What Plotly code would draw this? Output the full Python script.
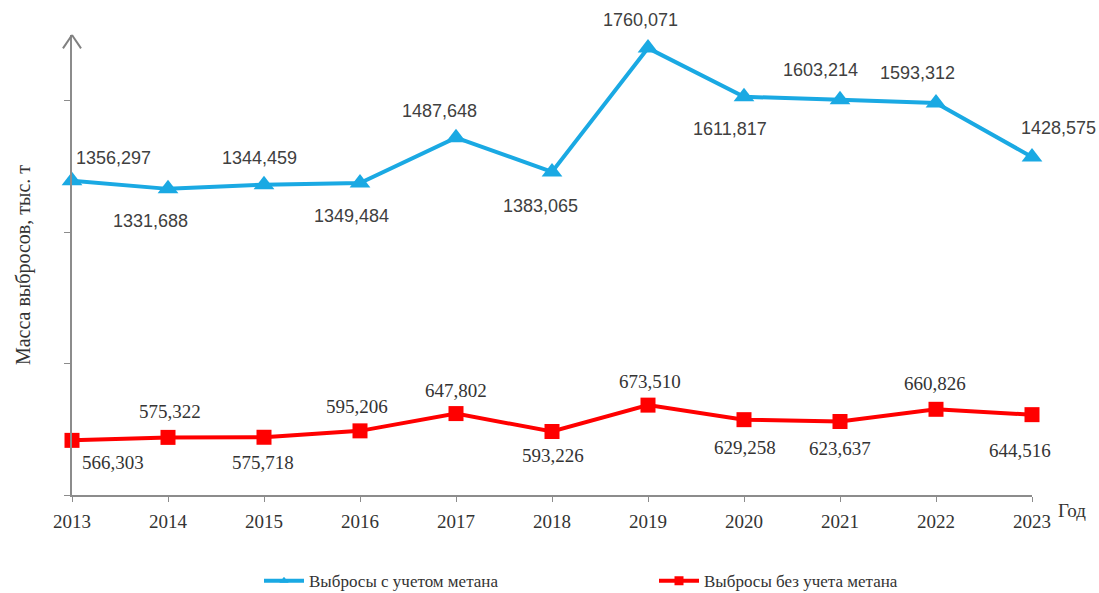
import plotly.graph_objects as go

# Годы и массы выбросов (тыс. т)
years = [2013, 2014, 2015, 2016, 2017, 2018, 2019, 2020, 2021, 2022, 2023]
with_methane = [1356.297, 1331.688, 1344.459, 1349.484, 1487.648, 1383.065,
                1760.071, 1611.817, 1603.214, 1593.312, 1428.575]
without_methane = [566.303, 575.322, 575.718, 595.206, 647.802, 593.226,
                   673.510, 629.258, 623.637, 660.826, 644.516]

name_with = "Выбросы с учетом метана"
name_without = "Выбросы без учета метана"
y_title = "Масса выбросов, тыс. т"
x_title = "Год"

# pixel offsets of the value labels relative to their markers
with_offsets = [(41, 23), (-18, -32), (-5, 27), (-9, -33), (-17, 27), (-12, -34),
                (-8, 28), (-14, -32), (-20, 30), (-19, 30), (26, 29)]
without_offsets = [(41, -22), (2, 26), (-1, -25), (-3, 24), (0, 23), (1, -24),
                   (2, 24), (1, -28), (0, -27), (-1, 26), (-12, -36)]

BLUE = "#1aa9e3"
RED = "#ff0000"
AXIS = "#8c8c8c"
SERIF = "Liberation Serif, Times New Roman, serif"
SANS = "Liberation Sans, Arial, sans-serif"


def fmt(v):
    return f"{v:.3f}".replace(".", ",")


fig = go.Figure()
fig.add_trace(go.Scatter(
    x=years, y=with_methane, name=name_with, mode="lines+markers",
    line=dict(color=BLUE, width=4),
    marker=dict(symbol="triangle-up", size=18, color=BLUE),
    cliponaxis=False, showlegend=False, legendgroup="with",
))
fig.add_trace(go.Scatter(
    x=years, y=without_methane, name=name_without, mode="lines+markers",
    line=dict(color=RED, width=4),
    marker=dict(symbol="square", size=15, color=RED),
    cliponaxis=False, showlegend=False, legendgroup="without",
))
# legend entries with smaller symbols
fig.add_trace(go.Scatter(
    x=[None], y=[None], name=name_with, mode="lines+markers",
    line=dict(color=BLUE, width=4),
    marker=dict(symbol="triangle-up", size=8, color=BLUE),
    legendgroup="with",
))
fig.add_trace(go.Scatter(
    x=[None], y=[None], name=name_without, mode="lines+markers",
    line=dict(color=RED, width=4),
    marker=dict(symbol="square", size=9, color=RED),
    legendgroup="without",
))

annotations = []
for x, v, (dx, dy) in zip(years, with_methane, with_offsets):
    annotations.append(dict(x=x, y=v, text=fmt(v), showarrow=False,
                            xshift=dx, yshift=dy,
                            font=dict(family=SANS, size=18, color="#404040")))
for x, v, (dx, dy) in zip(years, without_methane, without_offsets):
    annotations.append(dict(x=x, y=v, text=fmt(v), showarrow=False,
                            xshift=dx, yshift=dy,
                            font=dict(family=SERIF, size=19, color="#333333")))
annotations.append(dict(x=1, y=0, xref="paper", yref="paper", text=x_title,
                        showarrow=False, xanchor="left", yanchor="middle",
                        xshift=24, yshift=-15,
                        font=dict(family=SERIF, size=19, color="#333333")))

# open arrow head on top of the vertical axis
arrow_line = dict(color="#808080", width=2)
shapes = [
    dict(type="line", xref="paper", yref="paper",
         x0=-0.0094, y0=0.971, x1=0, y1=1, line=arrow_line, layer="above"),
    dict(type="line", xref="paper", yref="paper",
         x0=0.0094, y0=0.971, x1=0, y1=1, line=arrow_line, layer="above"),
]

fig.update_layout(
    width=1099, height=593,
    margin=dict(l=72, r=67, t=35, b=98),
    paper_bgcolor="white", plot_bgcolor="white",
    showlegend=True,
    legend=dict(orientation="h", x=259 / 1099, xanchor="left",
                xref="container", yref="container", y=0.02, yanchor="middle",
                entrywidth=340, entrywidthmode="pixels",
                font=dict(family=SERIF, size=17, color="#333333"),
                itemwidth=40),
    annotations=annotations,
    shapes=shapes,
)
fig.update_xaxes(
    range=[2013, 2023], tickvals=years, ticktext=[str(y) for y in years],
    showline=True, linecolor=AXIS, linewidth=1.5,
    ticks="outside", ticklen=5, tickcolor=AXIS,
    showgrid=False, zeroline=False, ticklabelstandoff=3,
    tickfont=dict(family=SERIF, size=19, color="#333333"),
)
fig.update_yaxes(
    range=[400, 1800], tickvals=[400, 800, 1200, 1600],
    showticklabels=False,
    showline=True, linecolor=AXIS, linewidth=1.5,
    ticks="outside", ticklen=6, tickcolor=AXIS,
    showgrid=False, zeroline=False,
    title=dict(text=y_title, standoff=28,
               font=dict(family=SERIF, size=20, color="#333333")),
)

fig.write_html("out.html")
